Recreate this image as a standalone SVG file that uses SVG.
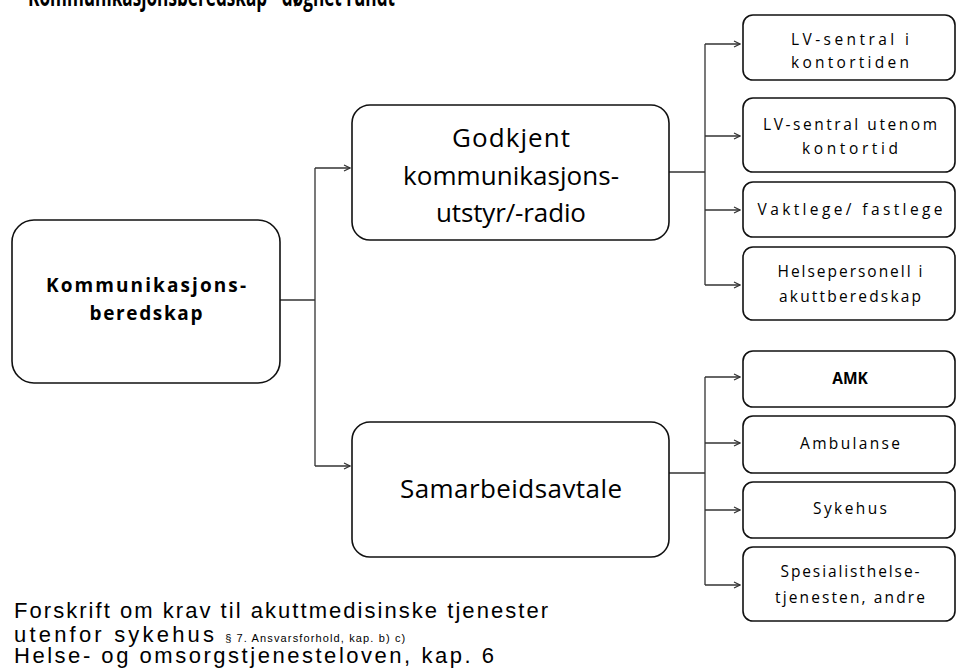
<svg xmlns="http://www.w3.org/2000/svg" width="960" height="668" viewBox="0 0 960 668">
<defs>
<marker id="arr" viewBox="0 0 8 8" refX="7" refY="4" markerWidth="8" markerHeight="8" markerUnits="userSpaceOnUse" orient="auto">
<path d="M1,1 L7,4 L1,7" fill="none" stroke="#333" stroke-width="1.2"/>
</marker>
</defs>
<style>
.box{fill:#fff;stroke:#111;stroke-width:1.6}
.con{fill:none;stroke:#333;stroke-width:1.3}
.t{font-family:"Open Sans","Noto Sans",sans-serif;fill:#000;text-anchor:middle}
.lb{font-size:19px;font-weight:bold}
.mb{font-size:26px}
.rb{font-size:15.5px}
.ft{font-family:"Liberation Sans","Open Sans",sans-serif;fill:#000;font-size:22px}
.title{font-family:"Open Sans","Noto Sans",sans-serif;font-size:27px;font-weight:bold;fill:#000}
</style>
<rect width="960" height="668" fill="#fff"/>
<text class="title" x="28" y="6" textLength="367" lengthAdjust="spacingAndGlyphs">Kommunikasjonsberedskap - døgnet rundt</text>

<g id="connectors">
<path class="con" d="M280,300 H315 M315,168 V466"/>
<path class="con" d="M315,168 H350" marker-end="url(#arr)"/>
<path class="con" d="M315,466 H350" marker-end="url(#arr)"/>
<path class="con" d="M669,172 H705 M705,44 V285"/>
<path class="con" d="M705,44 H740" marker-end="url(#arr)"/>
<path class="con" d="M705,136 H740" marker-end="url(#arr)"/>
<path class="con" d="M705,210 H740" marker-end="url(#arr)"/>
<path class="con" d="M705,285 H740" marker-end="url(#arr)"/>
<path class="con" d="M669,473 H705 M705,377 V585"/>
<path class="con" d="M705,377 H740" marker-end="url(#arr)"/>
<path class="con" d="M705,443 H740" marker-end="url(#arr)"/>
<path class="con" d="M705,510 H740" marker-end="url(#arr)"/>
<path class="con" d="M705,585 H740" marker-end="url(#arr)"/>
</g>

<g id="n-root">
<rect class="box" x="12" y="220" width="268" height="163" rx="22"/>
<text class="t lb" x="146" y="292" textLength="200" lengthAdjust="spacing">Kommunikasjons-</text>
<text class="t lb" x="146" y="320" textLength="113" lengthAdjust="spacing">beredskap</text>
</g>

<g id="n-godkjent">
<rect class="box" x="352" y="105" width="317" height="135" rx="18"/>
<text class="t mb" x="511" y="147" textLength="118" lengthAdjust="spacing">Godkjent</text>
<text class="t mb" x="511" y="185" textLength="216" lengthAdjust="spacing">kommunikasjons-</text>
<text class="t mb" x="511" y="222" textLength="150" lengthAdjust="spacing">utstyr/-radio</text>
</g>

<g id="n-samarbeid">
<rect class="box" x="352" y="422" width="317" height="135" rx="18"/>
<text class="t mb" x="511" y="498" textLength="222" lengthAdjust="spacing">Samarbeidsavtale</text>
</g>

<g id="n-lv1">
<rect class="box" x="743" y="15" width="212" height="65" rx="10"/>
<text class="t rb" x="850" y="45" textLength="118" lengthAdjust="spacing">LV-sentral i</text>
<text class="t rb" x="850" y="68" textLength="118" lengthAdjust="spacing">kontortiden</text>
</g>

<g id="n-lv2">
<rect class="box" x="743" y="98" width="212" height="74" rx="10"/>
<text class="t rb" x="850" y="130" textLength="174" lengthAdjust="spacing">LV-sentral utenom</text>
<text class="t rb" x="850" y="154" textLength="96" lengthAdjust="spacing">kontortid</text>
</g>

<g id="n-vakt">
<rect class="box" x="743" y="182" width="212" height="55" rx="10"/>
<text class="t rb" x="850" y="215" textLength="185" lengthAdjust="spacing">Vaktlege/  fastlege</text>
</g>

<g id="n-helse">
<rect class="box" x="743" y="247" width="212" height="73" rx="10"/>
<text class="t rb" x="850" y="277" textLength="145" lengthAdjust="spacing">Helsepersonell  i</text>
<text class="t rb" x="850" y="302" textLength="142" lengthAdjust="spacing">akuttberedskap</text>
</g>

<g id="n-amk">
<rect class="box" x="743" y="351" width="212" height="56" rx="10"/>
<text class="t rb" x="850" y="384" font-weight="bold">AMK</text>
</g>

<g id="n-ambulanse">
<rect class="box" x="743" y="416" width="212" height="57" rx="10"/>
<text class="t rb" x="850" y="449" textLength="100" lengthAdjust="spacing">Ambulanse</text>
</g>

<g id="n-sykehus">
<rect class="box" x="743" y="482" width="212" height="56" rx="10"/>
<text class="t rb" x="850" y="514" textLength="74" lengthAdjust="spacing">Sykehus</text>
</g>

<g id="n-spes">
<rect class="box" x="743" y="547" width="212" height="74" rx="10"/>
<text class="t rb" x="850" y="577" textLength="139" lengthAdjust="spacing">Spesialisthelse-</text>
<text class="t rb" x="850" y="603" textLength="150" lengthAdjust="spacing">tjenesten,  andre</text>
</g>

<g id="footer">
<text class="ft" x="14" y="618" textLength="534" lengthAdjust="spacing">Forskrift om krav til akuttmedisinske tjenester</text>
<text class="ft" x="14" y="642"><tspan textLength="200" lengthAdjust="spacing">utenfor sykehus</tspan><tspan font-size="11px" dx="8" textLength="180" lengthAdjust="spacing">§ 7. Ansvarsforhold, kap. b) c)</tspan></text>
<text class="ft" x="14" y="663" textLength="480" lengthAdjust="spacing">Helse- og omsorgstjenesteloven, kap. 6</text>
</g>
</svg>
